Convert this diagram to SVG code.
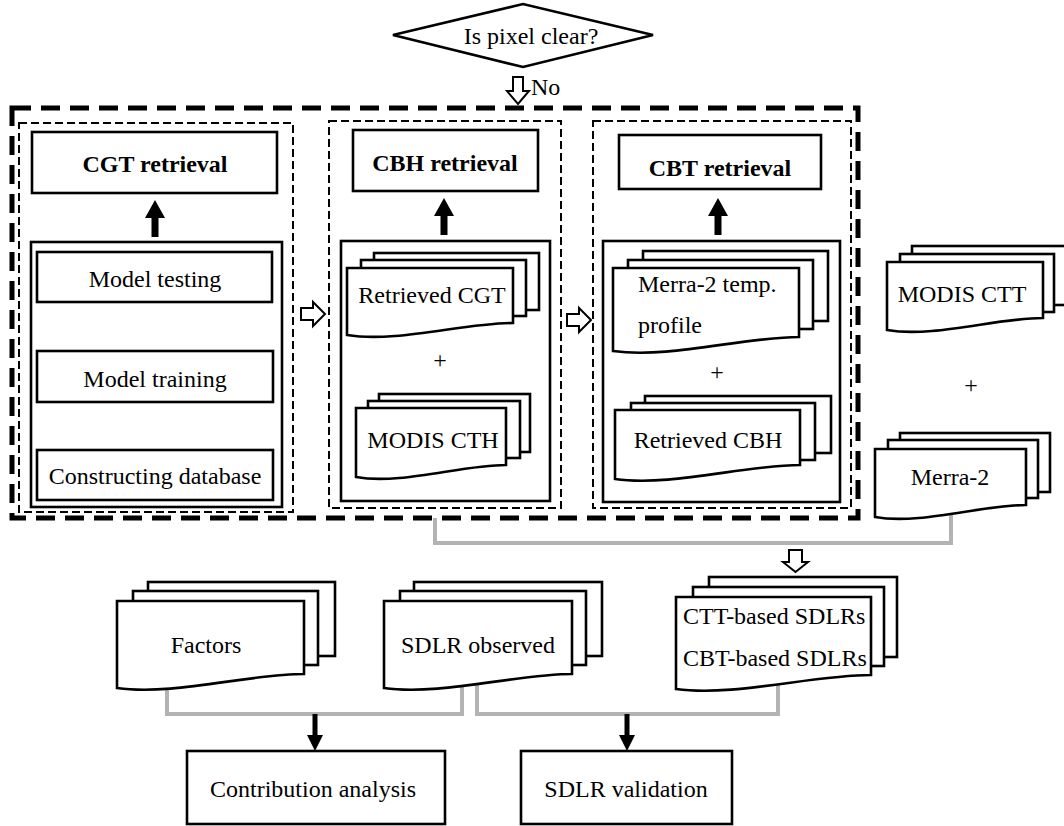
<svg xmlns="http://www.w3.org/2000/svg" width="1064" height="826" viewBox="0 0 1064 826">
<style>
.box{fill:#fff;stroke:#000;stroke-width:2.6}
.doc{fill:#fff;stroke:#000;stroke-width:2.6;stroke-linejoin:miter}
.panel{fill:none;stroke:#000;stroke-width:2;stroke-dasharray:8 4}
.outer{fill:none;stroke:#000;stroke-width:5;stroke-dasharray:19 10}
.t{font-family:"Liberation Serif","Times New Roman",serif;font-size:24px;fill:#000;text-anchor:middle}
.s{text-anchor:start}
.bd{font-weight:bold}
.gl{fill:none;stroke:#b3b3b3;stroke-width:4}
.ba{fill:#000;stroke:none}
.ga{fill:#999;stroke:none}
.oa{fill:#fff;stroke:#000;stroke-width:2;stroke-linejoin:miter}
</style>
<rect width="1064" height="826" fill="#fff"/>

<g id="connectors">
  <path class="gl" d="M435 518 V543 H951 V512"/>
  <path class="gl" d="M167 686 V714 H462 V682"/>
  <path class="gl" d="M477 682 V714 H778 V682"/>
  <polygon class="oa" points="513,77 523,77 523,91 529,91 518,104 507,91 513,91"/>
  <polygon class="oa" points="789,550 802,550 802,562 808,562 795.5,572 783,562 789,562"/>
  <polygon class="oa" points="301,308 313,308 313,302 325,314 313,326 313,320 301,320"/>
  <polygon class="oa" points="567,314 579,314 579,308 591,320 579,332 579,326 567,326"/>
  <polygon class="ba" points="155,200 165,218 158.5,218 158.5,237 151.5,237 151.5,218 145,218"/>
  <polygon class="ba" points="444,198 454,216 447.5,216 447.5,235 440.5,235 440.5,216 434,216"/>
  <polygon class="ba" points="718,198 728,216 721.5,216 721.5,235 714.5,235 714.5,216 708,216"/>
  <polygon class="ga" points="155,308 163,325 158,325 158,347 152,347 152,325 147,325"/>
  <polygon class="ga" points="155,406 163,423 158,423 158,443 152,443 152,423 147,423"/>
  <polygon class="ba" points="312.5,714 317.5,714 317.5,735 323,735 315,751 307,735 312.5,735"/>
  <polygon class="ba" points="624.5,714 629.5,714 629.5,735 635,735 627,751 619,735 624.5,735"/>
</g>

<g id="decision">
  <polygon points="393,35 523,4 653,35 523,67" fill="#fff" stroke="#000" stroke-width="2.6"/>
  <text class="t" x="531" y="44">Is pixel clear?</text>
  <text class="t s" x="531" y="95">No</text>
</g>

<g id="cloud-processing">
  <rect class="outer" x="12" y="108" width="846" height="410"/>
</g>

<g id="panel-cgt">
  <rect class="panel" x="19" y="123" width="274" height="389"/>
  <rect class="box" x="32" y="132" width="245" height="61"/>
  <text class="t bd" x="155" y="172">CGT retrieval</text>
  <rect class="box" x="31" y="242" width="251" height="265"/>
  <rect class="box" x="37" y="252" width="235" height="50"/>
  <text class="t" x="155" y="287">Model testing</text>
  <rect class="box" x="37" y="351" width="236" height="51"/>
  <text class="t" x="155" y="387">Model training</text>
  <rect class="box" x="37" y="450" width="236" height="50"/>
  <text class="t" x="155" y="484">Constructing database</text>
</g>

<g id="panel-cbh">
  <rect class="panel" x="329" y="121" width="232" height="387"/>
  <rect class="box" x="353" y="130" width="185" height="61"/>
  <text class="t bd" x="445" y="171">CBH retrieval</text>
  <rect class="box" x="341" y="241" width="209" height="260"/>
  <g id="retrieved-cgt">
    <rect class="doc" x="374" y="253" width="165" height="57"/>
    <rect class="doc" x="361" y="260" width="165" height="56"/>
    <path class="doc" d="M347 268 H513 V323 C463 323 397 343 347 335 Z"/>
    <text class="t" x="432" y="303">Retrieved CGT</text>
  </g>
  <text class="t" x="440" y="368">+</text>
  <g id="modis-cth">
    <rect class="doc" x="379" y="394" width="151" height="58"/>
    <rect class="doc" x="368" y="401" width="152" height="57"/>
    <path class="doc" d="M356 408 H506 V465 C461 465 401 485 356 477 Z"/>
    <text class="t" x="433" y="448">MODIS CTH</text>
  </g>
</g>

<g id="panel-cbt">
  <rect class="panel" x="593" y="121" width="258" height="387"/>
  <rect class="box" x="619" y="135" width="202" height="54"/>
  <text class="t bd" x="720" y="176">CBT retrieval</text>
  <rect class="box" x="603" y="241" width="237" height="261"/>
  <g id="merra-profile">
    <rect class="doc" x="643" y="251" width="185" height="70"/>
    <rect class="doc" x="628" y="260" width="185" height="69"/>
    <path class="doc" d="M613 268 H799 V337 C743 337 669 359 613 351 Z"/>
    <text class="t s" x="638" y="292">Merra-2 temp.</text>
    <text class="t s" x="638" y="333">profile</text>
  </g>
  <text class="t" x="717" y="380">+</text>
  <g id="retrieved-cbh">
    <rect class="doc" x="645" y="396" width="186" height="57"/>
    <rect class="doc" x="631" y="403" width="184" height="57"/>
    <path class="doc" d="M615 410 H800 V465 C745 465 670 487 615 479 Z"/>
    <text class="t" x="708" y="448">Retrieved CBH</text>
  </g>
</g>

<g id="modis-ctt">
  <rect class="doc" x="912" y="246" width="160" height="59"/>
  <rect class="doc" x="900" y="254" width="154" height="58"/>
  <path class="doc" d="M887 262 H1043 V318 C996 318 934 338 887 330 Z"/>
  <text class="t" x="962" y="302">MODIS CTT</text>
</g>
<text class="t" x="971" y="393">+</text>
<g id="merra-2">
  <rect class="doc" x="900" y="433" width="150" height="59"/>
  <rect class="doc" x="888" y="440" width="150" height="58"/>
  <path class="doc" d="M875 449 H1026 V505 C981 505 920 525 875 517 Z"/>
  <text class="t" x="950" y="485">Merra-2</text>
</g>

<g id="factors">
  <rect class="doc" x="148" y="582" width="187" height="74"/>
  <rect class="doc" x="133" y="591" width="185" height="74"/>
  <path class="doc" d="M117 601 H304 V674 C248 674 173 696 117 688 Z"/>
  <text class="t" x="206" y="653">Factors</text>
</g>
<g id="sdlr-observed">
  <rect class="doc" x="414" y="582" width="188" height="74"/>
  <rect class="doc" x="400" y="591" width="186" height="74"/>
  <path class="doc" d="M384 601 H572 V674 C516 674 440 696 384 688 Z"/>
  <text class="t" x="478" y="653">SDLR observed</text>
</g>
<g id="sdlrs">
  <rect class="doc" x="709" y="577" width="188" height="80"/>
  <rect class="doc" x="693" y="587" width="191" height="79"/>
  <path class="doc" d="M676 597 H871 V675 C812 675 734 697 676 689 Z"/>
  <text class="t s" x="683" y="624">CTT-based SDLRs</text>
  <text class="t s" x="683" y="666">CBT-based SDLRs</text>
</g>

<g id="contribution">
  <rect class="box" x="187" y="751" width="258" height="73"/>
  <text class="t" x="313" y="797">Contribution analysis</text>
</g>
<g id="validation">
  <rect class="box" x="521" y="751" width="211" height="73"/>
  <text class="t" x="626" y="797">SDLR validation</text>
</g>
</svg>
